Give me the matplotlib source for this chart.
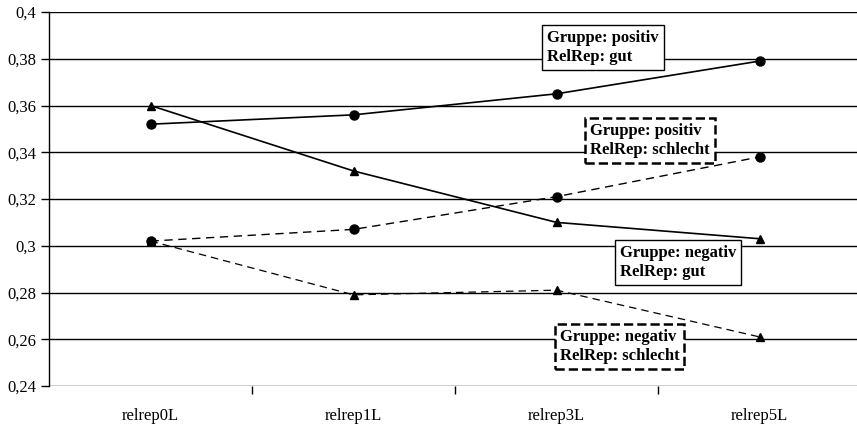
import matplotlib
matplotlib.use("Agg")
from matplotlib import pyplot as plt

# Data
categories = ["relrep0L", "relrep1L", "relrep3L", "relrep5L"]
pos_gut = [0.352, 0.356, 0.365, 0.379]
pos_schlecht = [0.302, 0.307, 0.321, 0.338]
neg_gut = [0.360, 0.332, 0.310, 0.303]
neg_schlecht = [0.302, 0.279, 0.281, 0.261]
y_ticks = [0.24, 0.26, 0.28, 0.30, 0.32, 0.34, 0.36, 0.38, 0.40]
y_labels = ["0,24", "0,26", "0,28", "0,3", "0,32", "0,34", "0,36", "0,38", "0,4"]

plt.rcParams["font.family"] = ["Liberation Serif", "DejaVu Serif"]

fig = plt.figure(figsize=(8.57, 4.26), dpi=100)
ax = fig.add_axes([49 / 857, 1 - 386 / 426, 812 / 857, 374 / 426])

x = range(len(categories))

# gridlines
for yv in y_ticks:
    ax.axhline(yv, color="black", linewidth=1.0, zorder=1)

# lines
ax.plot(x, pos_gut, color="black", linewidth=1.2, marker="o", markersize=6.5, zorder=3)
ax.plot(x, pos_schlecht, color="black", linewidth=1.0, linestyle=(0, (6, 4)),
        marker="o", markersize=6.5, zorder=3)
ax.plot(x, neg_gut, color="black", linewidth=1.2, marker="^", markersize=6, zorder=3)
ax.plot(x, neg_schlecht, color="black", linewidth=0.9, linestyle=(0, (6, 4)),
        marker="^", markersize=5.5, zorder=3)

# labels
boxes = [
    (2.23, 0.385, "Gruppe: positiv\nRelRep: gut", "solid"),
    (2.46, 0.3452, "Gruppe: positiv\nRelRep: schlecht", "dashed"),
    (2.60, 0.2927, "Gruppe: negativ\nRelRep: gut", "solid"),
    (2.31, 0.2571, "Gruppe: negativ\nRelRep: schlecht", "dashed"),
]
for bx, by, txt, ls in boxes:
    lw = 1.0 if ls == "solid" else 1.8
    ax.text(bx, by, txt, ha="center", va="center", multialignment="left",
            fontsize=12, fontweight="bold", zorder=5, linespacing=1.25,
            bbox=dict(boxstyle="square,pad=0.3", facecolor="white",
                      edgecolor="black", linewidth=lw, linestyle=ls))

# axes
ax.set_xlim(-0.5, 3.5)
ax.set_ylim(0.24, 0.40)
ax.set_yticks(y_ticks)
ax.set_yticklabels(y_labels, fontsize=12)
ax.set_xticks([0.5, 1.5, 2.5])
ax.set_xticklabels([])
ax.set_xticks(list(x), minor=True)
ax.set_xticklabels(categories, minor=True, fontsize=12)
ax.tick_params(axis="x", which="major", direction="out", length=6, width=1)
ax.tick_params(axis="x", which="minor", length=0, pad=16)
ax.tick_params(axis="y", direction="out", length=6, width=1, pad=3)

for side in ["top", "right"]:
    ax.spines[side].set_visible(False)
ax.spines["bottom"].set_visible(False)
ax.spines["left"].set_linewidth(1.0)

fig.savefig("out.png", dpi=100)
